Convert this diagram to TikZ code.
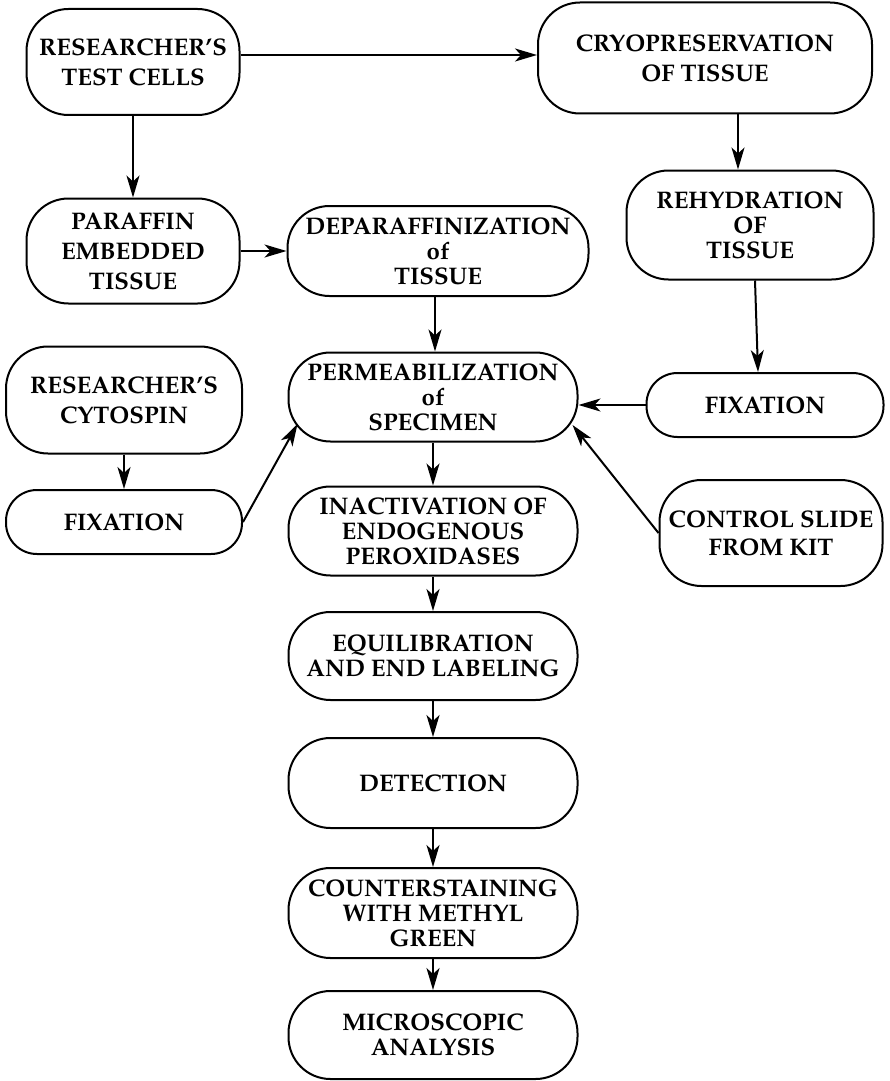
\documentclass[tikz,border=0pt]{standalone}
\usepackage[T1]{fontenc}
\usepackage{mathpazo}
\usepackage{tikz}
\usetikzlibrary{arrows.meta}

\begin{document}
\begin{tikzpicture}[x=0.5pt,y=-0.5pt,->,>={Stealth[length=11pt,width=6.5pt,inset=3pt]},
  line width=1pt,
  main node/.style={rectangle,draw,fill=white,rounded corners=21pt,align=center,
    inner sep=1pt,font=\bfseries\fontsize{12}{12.5}\selectfont},
  wide node/.style={main node,font=\bfseries\fontsize{12}{15}\selectfont},
  flat node/.style={main node,rounded corners=15.5pt,minimum height=32pt}]

  \useasboundingbox (0,0) rectangle (889,1081);

  \node[wide node,minimum width=106.5pt,minimum height=53pt] (rtc) at (133,62) {RESEARCHER'S\\TEST CELLS};
  \node[wide node,minimum width=167pt,minimum height=55.5pt] (cryo) at (705,58) {CRYOPRESERVATION\\OF TISSUE};
  \node[wide node,minimum width=106.5pt,minimum height=52.5pt] (pet) at (133,251) {PARAFFIN\\EMBEDDED\\TISSUE};
  \node[main node,minimum width=150.5pt,minimum height=45pt] (dep) at (438,251) {DEPARAFFINIZATION\\of\\TISSUE};
  \node[main node,minimum width=123.5pt,minimum height=54.5pt] (rehy) at (750,225) {REHYDRATION\\OF\\TISSUE};
  \node[wide node,minimum width=118pt,minimum height=53.5pt] (rcy) at (124,400) {RESEARCHER'S\\CYTOSPIN};
  \node[flat node,minimum width=118pt] (fixl) at (124,522) {FIXATION};
  \node[main node,minimum width=144.5pt,minimum height=44.5pt] (perm) at (433,397) {PERMEABILIZATION\\of\\SPECIMEN};
  \node[flat node,minimum width=118.5pt] (fixr) at (765,405) {FIXATION};
  \node[main node,font=\bfseries\fontsize{12}{14}\selectfont,minimum width=111.5pt,minimum height=53pt] (ctrl) at (771,533) {CONTROL SLIDE\\FROM KIT};
  \node[main node,minimum width=144.5pt,minimum height=44.5pt] (inact) at (433,531) {INACTIVATION OF\\ENDOGENOUS\\PEROXIDASES};
  \node[main node,minimum width=144.5pt,minimum height=44pt] (equi) at (433,656) {EQUILIBRATION\\AND END LABELING};
  \node[main node,minimum width=144.5pt,minimum height=45pt] (det) at (433,783) {DETECTION};
  \node[main node,minimum width=144.5pt,minimum height=45pt] (count) at (433,913) {COUNTERSTAINING\\WITH METHYL\\GREEN};
  \node[main node,minimum width=144.5pt,minimum height=44pt] (micro) at (433,1035) {MICROSCOPIC\\ANALYSIS};

  \path
    ([yshift=3.5pt]rtc.east) edge ([yshift=3.5pt]rtc.east -| cryo.west)
    (rtc) edge (pet)
    ([xshift=-6pt]rehy.north |- cryo.south) edge ([xshift=-6pt]rehy.north)
    (pet.east) edge (dep.west)
    ([xshift=2.5pt]rehy.south) edge ([xshift=-3.5pt]fixr.north)
    ([xshift=1pt]perm.north |- dep.south) edge ([xshift=1pt]perm.north)
    (rcy) edge (fixl)
    (fixl.east) edge ([xshift=5pt,yshift=-13.5pt]perm.west)
    (fixr.west) edge (fixr.west -| perm.east)
    (ctrl.west) edge ([xshift=-3pt,yshift=-14pt]perm.east)
    (perm) edge (inact)
    (inact) edge (equi)
    (equi) edge (det)
    (det) edge (count)
    (count) edge (micro)
    ;

\end{tikzpicture}
\end{document}
